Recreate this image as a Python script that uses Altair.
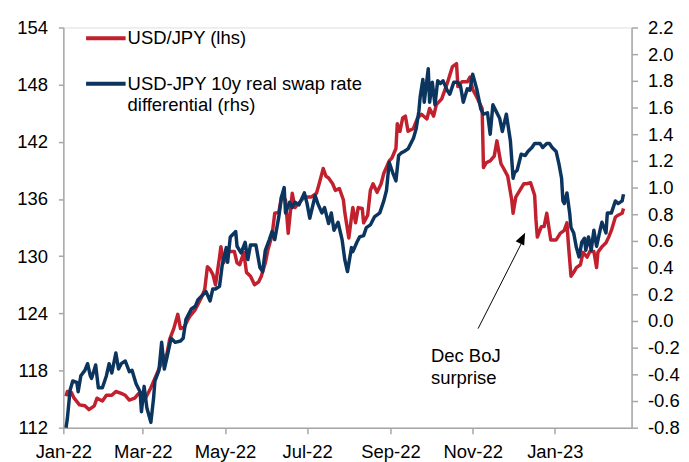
import altair as alt
import pandas as pd

# ---------------- data ----------------
usdjpy_dates = [
    "2022-01-03", "2022-01-04", "2022-01-07", "2022-01-09", "2022-01-13", "2022-01-17", "2022-01-20",
    "2022-01-24", "2022-01-26", "2022-01-30", "2022-02-02", "2022-02-06", "2022-02-09", "2022-02-13",
    "2022-02-16", "2022-02-19", "2022-02-23", "2022-02-26", "2022-03-02", "2022-03-03", "2022-03-07",
    "2022-03-11", "2022-03-14", "2022-03-17", "2022-03-19", "2022-03-21", "2022-03-24", "2022-03-27",
    "2022-03-29", "2022-04-01", "2022-04-03", "2022-04-05", "2022-04-09", "2022-04-13", "2022-04-16",
    "2022-04-18", "2022-04-20", "2022-04-22", "2022-04-24", "2022-04-27", "2022-04-28", "2022-04-30",
    "2022-05-04", "2022-05-08", "2022-05-10", "2022-05-12", "2022-05-15", "2022-05-17", "2022-05-20",
    "2022-05-23", "2022-05-26", "2022-05-28", "2022-05-31", "2022-06-02", "2022-06-05", "2022-06-07",
    "2022-06-10", "2022-06-12", "2022-06-15", "2022-06-17", "2022-06-20", "2022-06-22", "2022-06-25",
    "2022-06-29", "2022-07-04", "2022-07-08", "2022-07-10", "2022-07-13", "2022-07-15", "2022-07-17",
    "2022-07-20", "2022-07-22", "2022-07-25", "2022-07-28", "2022-07-29", "2022-08-01", "2022-08-03",
    "2022-08-04", "2022-08-06", "2022-08-08", "2022-08-11", "2022-08-12", "2022-08-15", "2022-08-17",
    "2022-08-19", "2022-08-22", "2022-08-25", "2022-08-27", "2022-08-31", "2022-09-02", "2022-09-05",
    "2022-09-06", "2022-09-08", "2022-09-10", "2022-09-12", "2022-09-14", "2022-09-18", "2022-09-21",
    "2022-09-24", "2022-09-28", "2022-09-30", "2022-10-03", "2022-10-05", "2022-10-09", "2022-10-13",
    "2022-10-15", "2022-10-17", "2022-10-20", "2022-10-21", "2022-10-24", "2022-10-28", "2022-10-30",
    "2022-11-01", "2022-11-04", "2022-11-08", "2022-11-09", "2022-11-11", "2022-11-14", "2022-11-17",
    "2022-11-19", "2022-11-22", "2022-11-24", "2022-11-27", "2022-11-30", "2022-12-01", "2022-12-03",
    "2022-12-06", "2022-12-09", "2022-12-11", "2022-12-14", "2022-12-17", "2022-12-18", "2022-12-19",
    "2022-12-22", "2022-12-24", "2022-12-26", "2022-12-29", "2023-01-02", "2023-01-05", "2023-01-08",
    "2023-01-10", "2023-01-11", "2023-01-13", "2023-01-15", "2023-01-17", "2023-01-20", "2023-01-22",
    "2023-01-25", "2023-01-27", "2023-01-30", "2023-02-01", "2023-02-02", "2023-02-05", "2023-02-08",
    "2023-02-10", "2023-02-12", "2023-02-15", "2023-02-17", "2023-02-20", "2023-02-21",
]
usdjpy_values = [
    115.3, 115.8, 115.7, 115.1, 114.4, 114.3, 113.9,
    114.3, 115.1, 114.8, 115.4, 115.4, 115.8, 115.6,
    115.4, 114.9, 115.1, 115.6, 115.6, 115.1, 116.2,
    117.5, 118.5, 119.3, 119.8, 121.3, 122.4, 123.9,
    122.4, 122.6, 123.2, 123.7, 124.4, 125.5, 126.5,
    128.9, 128.6, 128.1, 127.0, 129.9, 131.0, 129.3,
    130.5, 130.5, 129.3, 129.1, 130.4, 128.3, 127.9,
    127.0, 127.3, 127.9, 129.3, 130.7, 132.2, 134.5,
    134.6, 136.2, 135.9, 132.4, 136.6, 135.1, 135.6,
    136.2, 136.2, 136.6, 137.6, 139.2, 138.4, 138.2,
    137.6, 136.9, 137.1, 135.9, 134.6, 131.9, 134.1,
    135.1, 133.5, 135.1, 135.0, 133.5, 134.3, 136.9,
    137.6, 136.7, 137.6, 138.7, 140.0, 140.3, 141.3,
    143.9, 143.1, 144.5, 144.7, 143.1, 143.4, 144.5,
    144.9, 144.4, 145.5, 144.7, 145.9, 146.5, 148.1,
    149.0, 149.9, 150.2, 147.8, 148.3, 148.3, 148.8,
    147.5, 146.7, 145.5, 139.3, 139.8, 140.0, 140.5,
    142.1, 139.7, 139.2, 138.4, 135.9, 134.5, 136.2,
    136.9, 137.6, 137.6, 137.7, 136.4, 133.8, 132.0,
    133.1, 133.1, 134.5, 131.7, 131.7, 132.4, 132.7,
    133.5, 131.4, 127.9, 128.3, 128.8, 129.1, 130.4,
    129.9, 130.5, 130.5, 128.8, 130.4, 131.0, 131.4,
    132.0, 132.7, 134.1, 134.3, 134.5, 135.0,
]

swap_dates = [
    "2022-01-03", "2022-01-04", "2022-01-06", "2022-01-08", "2022-01-11", "2022-01-12", "2022-01-14",
    "2022-01-17", "2022-01-19", "2022-01-21", "2022-01-22", "2022-01-25", "2022-01-27", "2022-01-30",
    "2022-02-02", "2022-02-04", "2022-02-06", "2022-02-09", "2022-02-11", "2022-02-13", "2022-02-16",
    "2022-02-19", "2022-02-21", "2022-02-24", "2022-02-27", "2022-02-28", "2022-03-02", "2022-03-04",
    "2022-03-07", "2022-03-09", "2022-03-10", "2022-03-13", "2022-03-15", "2022-03-17", "2022-03-19",
    "2022-03-22", "2022-03-25", "2022-03-29", "2022-03-31", "2022-04-02", "2022-04-06", "2022-04-09",
    "2022-04-11", "2022-04-13", "2022-04-17", "2022-04-20", "2022-04-22", "2022-04-24", "2022-04-27",
    "2022-04-29", "2022-05-02", "2022-05-03", "2022-05-05", "2022-05-09", "2022-05-10", "2022-05-13",
    "2022-05-16", "2022-05-18", "2022-05-20", "2022-05-24", "2022-05-27", "2022-05-29", "2022-05-31",
    "2022-06-03", "2022-06-05", "2022-06-07", "2022-06-10", "2022-06-12", "2022-06-14", "2022-06-15",
    "2022-06-18", "2022-06-20", "2022-06-22", "2022-06-25", "2022-06-29", "2022-07-01", "2022-07-03",
    "2022-07-07", "2022-07-09", "2022-07-12", "2022-07-14", "2022-07-17", "2022-07-19", "2022-07-21",
    "2022-07-24", "2022-07-27", "2022-07-29", "2022-07-31", "2022-08-03", "2022-08-04", "2022-08-07",
    "2022-08-09", "2022-08-12", "2022-08-14", "2022-08-17", "2022-08-20", "2022-08-24", "2022-08-27",
    "2022-08-29", "2022-08-31", "2022-09-03", "2022-09-05", "2022-09-07", "2022-09-09", "2022-09-11",
    "2022-09-14", "2022-09-18", "2022-09-20", "2022-09-22", "2022-09-23", "2022-09-25", "2022-09-26",
    "2022-09-29", "2022-09-30", "2022-10-02", "2022-10-04", "2022-10-06", "2022-10-08", "2022-10-10",
    "2022-10-13", "2022-10-15", "2022-10-18", "2022-10-21", "2022-10-23", "2022-10-25", "2022-10-28",
    "2022-10-30", "2022-11-01", "2022-11-04", "2022-11-07", "2022-11-09", "2022-11-12", "2022-11-14",
    "2022-11-16", "2022-11-19", "2022-11-21", "2022-11-23", "2022-11-26", "2022-11-29", "2022-12-01",
    "2022-12-02", "2022-12-04", "2022-12-07", "2022-12-10", "2022-12-12", "2022-12-15", "2022-12-17",
    "2022-12-21", "2022-12-23", "2022-12-26", "2022-12-28", "2022-12-30", "2023-01-02", "2023-01-04",
    "2023-01-06", "2023-01-07", "2023-01-08", "2023-01-10", "2023-01-12", "2023-01-13", "2023-01-15",
    "2023-01-17", "2023-01-19", "2023-01-21", "2023-01-23", "2023-01-24", "2023-01-26", "2023-01-28",
    "2023-01-30", "2023-02-01", "2023-02-04", "2023-02-05", "2023-02-08", "2023-02-09", "2023-02-12",
    "2023-02-14", "2023-02-15", "2023-02-17", "2023-02-20", "2023-02-21",
]
swap_values = [
    -0.80, -0.73, -0.52, -0.45, -0.46, -0.53, -0.41,
    -0.37, -0.32, -0.41, -0.43, -0.33, -0.50, -0.50,
    -0.41, -0.32, -0.39, -0.24, -0.36, -0.32, -0.30,
    -0.38, -0.37, -0.47, -0.53, -0.68, -0.49, -0.65,
    -0.76, -0.58, -0.45, -0.37, -0.16, -0.36, -0.27,
    -0.13, -0.16, -0.15, -0.13, 0.01, 0.09, 0.11,
    0.16, 0.18, 0.22, 0.15, 0.24, 0.24, 0.26,
    0.42, 0.55, 0.44, 0.63, 0.67, 0.56, 0.51,
    0.59, 0.46, 0.57, 0.57, 0.40, 0.37, 0.53,
    0.61, 0.67, 0.61, 0.78, 0.93, 1.00, 0.81,
    0.89, 0.85, 0.89, 0.87, 0.96, 0.88, 0.77,
    0.94, 0.88, 0.81, 0.85, 0.73, 0.81, 0.68,
    0.74, 0.61, 0.46, 0.37, 0.55, 0.52, 0.59,
    0.63, 0.64, 0.70, 0.72, 0.78, 0.81, 0.90,
    0.98, 1.19, 1.10, 1.05, 1.24, 1.26, 1.27,
    1.29, 1.37, 1.44, 1.57, 1.68, 1.81, 1.64,
    1.89, 1.64, 1.79, 1.62, 1.80, 1.78, 1.80,
    1.73, 1.70, 1.79, 1.79, 1.76, 1.64, 1.74,
    1.73, 1.85, 1.74, 1.59, 1.55, 1.56, 1.40,
    1.62, 1.56, 1.52, 1.42, 1.55, 1.35, 1.07,
    1.11, 1.13, 1.25, 1.24, 1.27, 1.30, 1.33,
    1.33, 1.30, 1.33, 1.33, 1.30, 1.27, 1.18,
    1.07, 0.90, 0.88, 0.96, 0.81, 0.70, 0.66,
    0.55, 0.48, 0.59, 0.62, 0.53, 0.63, 0.53,
    0.68, 0.56, 0.70, 0.74, 0.66, 0.81, 0.81,
    0.87, 0.90, 0.88, 0.90, 0.95,
]

series_names = ["USD/JPY (lhs)", "USD-JPY 10y real swap rate", "differential (rhs)"]
x_tick_months = [(2022, 1), (2022, 3), (2022, 5), (2022, 7), (2022, 9), (2022, 11), (2023, 1)]
lhs_ticks = [112, 118, 124, 130, 136, 142, 148, 154]
rhs_ticks = [-0.8, -0.6, -0.4, -0.2, 0.0, 0.2, 0.4, 0.6, 0.8, 1.0, 1.2, 1.4, 1.6, 1.8, 2.0, 2.2]

# annotation anchor (dates / lhs units)
annot_text = ["Dec BoJ", "surprise"]
annot_text_dates = ["2022-10-01", "2022-10-01"]
annot_text_values = [119.5, 117.2]
arrow_from = ("2022-11-05", 122.4)
arrow_to = ("2022-12-07", 131.3)
arrow_head = ("2022-12-08", 131.9)

# ---------------- styling ----------------
FONT = "Liberation Sans"
FS = 18.67
RED = "#C1212E"
BLUE = "#0B355F"
GREY = "#A6A6A6"

red_df = pd.DataFrame({"date": usdjpy_dates, "value": usdjpy_values})
blue_df = pd.DataFrame({"date": swap_dates, "value": swap_values})

x_scale = alt.Scale(
    type="utc",
    domain=[alt.DateTime(year=2022, month=1, date=1, utc=True),
            alt.DateTime(year=2023, month=2, date=27, utc=True)],
)
axis_style = dict(
    labelFont=FONT, labelFontSize=FS, labelColor="black",
    domainColor=GREY, domainWidth=1.5, tickColor=GREY, tickWidth=1.5,
    grid=False, title=None,
)
x_axis = alt.Axis(
    values=[alt.DateTime(year=y, month=m, date=1, utc=True) for y, m in x_tick_months],
    format="%b-%y", tickSize=6, labelPadding=9, labelFlush=False,
    labelOverlap=False, labelBound=False, orient="bottom", **axis_style,
)
lhs_scale = alt.Scale(domain=[112, 154], nice=False, zero=False)
rhs_scale = alt.Scale(domain=[-0.8, 2.2], nice=False, zero=False)

X = alt.X("date:T", scale=x_scale, axis=x_axis)

red_line = alt.Chart(red_df).mark_line(color=RED, strokeWidth=3.5, strokeJoin="round").encode(
    x=X,
    y=alt.Y("value:Q", scale=lhs_scale,
            axis=alt.Axis(values=lhs_ticks, orient="left", tickSize=5, labelPadding=11, **axis_style)),
)

blue_line = alt.Chart(blue_df).mark_line(color=BLUE, strokeWidth=3.5, strokeJoin="round").encode(
    x=X,
    y=alt.Y("value:Q", scale=rhs_scale,
            axis=alt.Axis(values=rhs_ticks, orient="right", tickSize=6, labelPadding=10,
                          labelExpr="(datum.value < 0 ? '-' : '') + format(abs(datum.value), '.1f')",
                          **axis_style)),
)

annot_df = pd.DataFrame({"date": annot_text_dates, "value": annot_text_values, "t": annot_text})
annot = alt.Chart(annot_df).mark_text(
    align="left", baseline="middle", font=FONT, fontSize=FS, color="black"
).encode(x=X, y=alt.Y("value:Q", scale=lhs_scale), text="t:N")

arrow_df = pd.DataFrame({"date": [arrow_from[0]], "value": [arrow_from[1]],
                         "date2": [arrow_to[0]], "value2": [arrow_to[1]]})
arrow = alt.Chart(arrow_df).mark_rule(color="black", strokeWidth=1).encode(
    x=X, y=alt.Y("value:Q", scale=lhs_scale), x2="date2:T", y2="value2:Q"
)

head_df = pd.DataFrame({"date": [arrow_head[0]], "value": [arrow_head[1]]})
head = alt.Chart(head_df).mark_point(
    shape="M0,-1L0.8,1L-0.8,1Z", filled=True, color="black", size=144, angle=26, opacity=1,
    strokeWidth=0,
).encode(x=X, y=alt.Y("value:Q", scale=lhs_scale))

one = alt.Data(values=[{"k": 1}])
leg_red_line = alt.Chart(one).mark_rule(color=RED, strokeWidth=4).encode(
    x=alt.value(23), x2=alt.value(63), y=alt.value(11))
leg_blue_line = alt.Chart(one).mark_rule(color=BLUE, strokeWidth=4).encode(
    x=alt.value(23), x2=alt.value(63), y=alt.value(57))
txt = dict(align="left", baseline="middle", font=FONT, fontSize=FS, color="black")
leg_t1 = alt.Chart(one).mark_text(**txt).encode(x=alt.value(65), y=alt.value(11), text=alt.value(series_names[0]))
leg_t2 = alt.Chart(one).mark_text(**txt).encode(x=alt.value(65), y=alt.value(57), text=alt.value(series_names[1]))
leg_t3 = alt.Chart(one).mark_text(**txt).encode(x=alt.value(65), y=alt.value(79), text=alt.value(series_names[2]))

lhs_layer = alt.layer(red_line, arrow, head, annot, leg_red_line, leg_blue_line, leg_t1, leg_t2, leg_t3)

chart = alt.layer(lhs_layer, blue_line).resolve_scale(y="independent").properties(
    width=575, height=405,
    padding={"left": 56, "top": 17, "right": 50, "bottom": 32},
    autosize=alt.AutoSizeParams(type="none"),
).configure_view(stroke=None).configure(font=FONT, background="white")

chart.save("out.html", embed_options={"renderer": "svg", "actions": False})
